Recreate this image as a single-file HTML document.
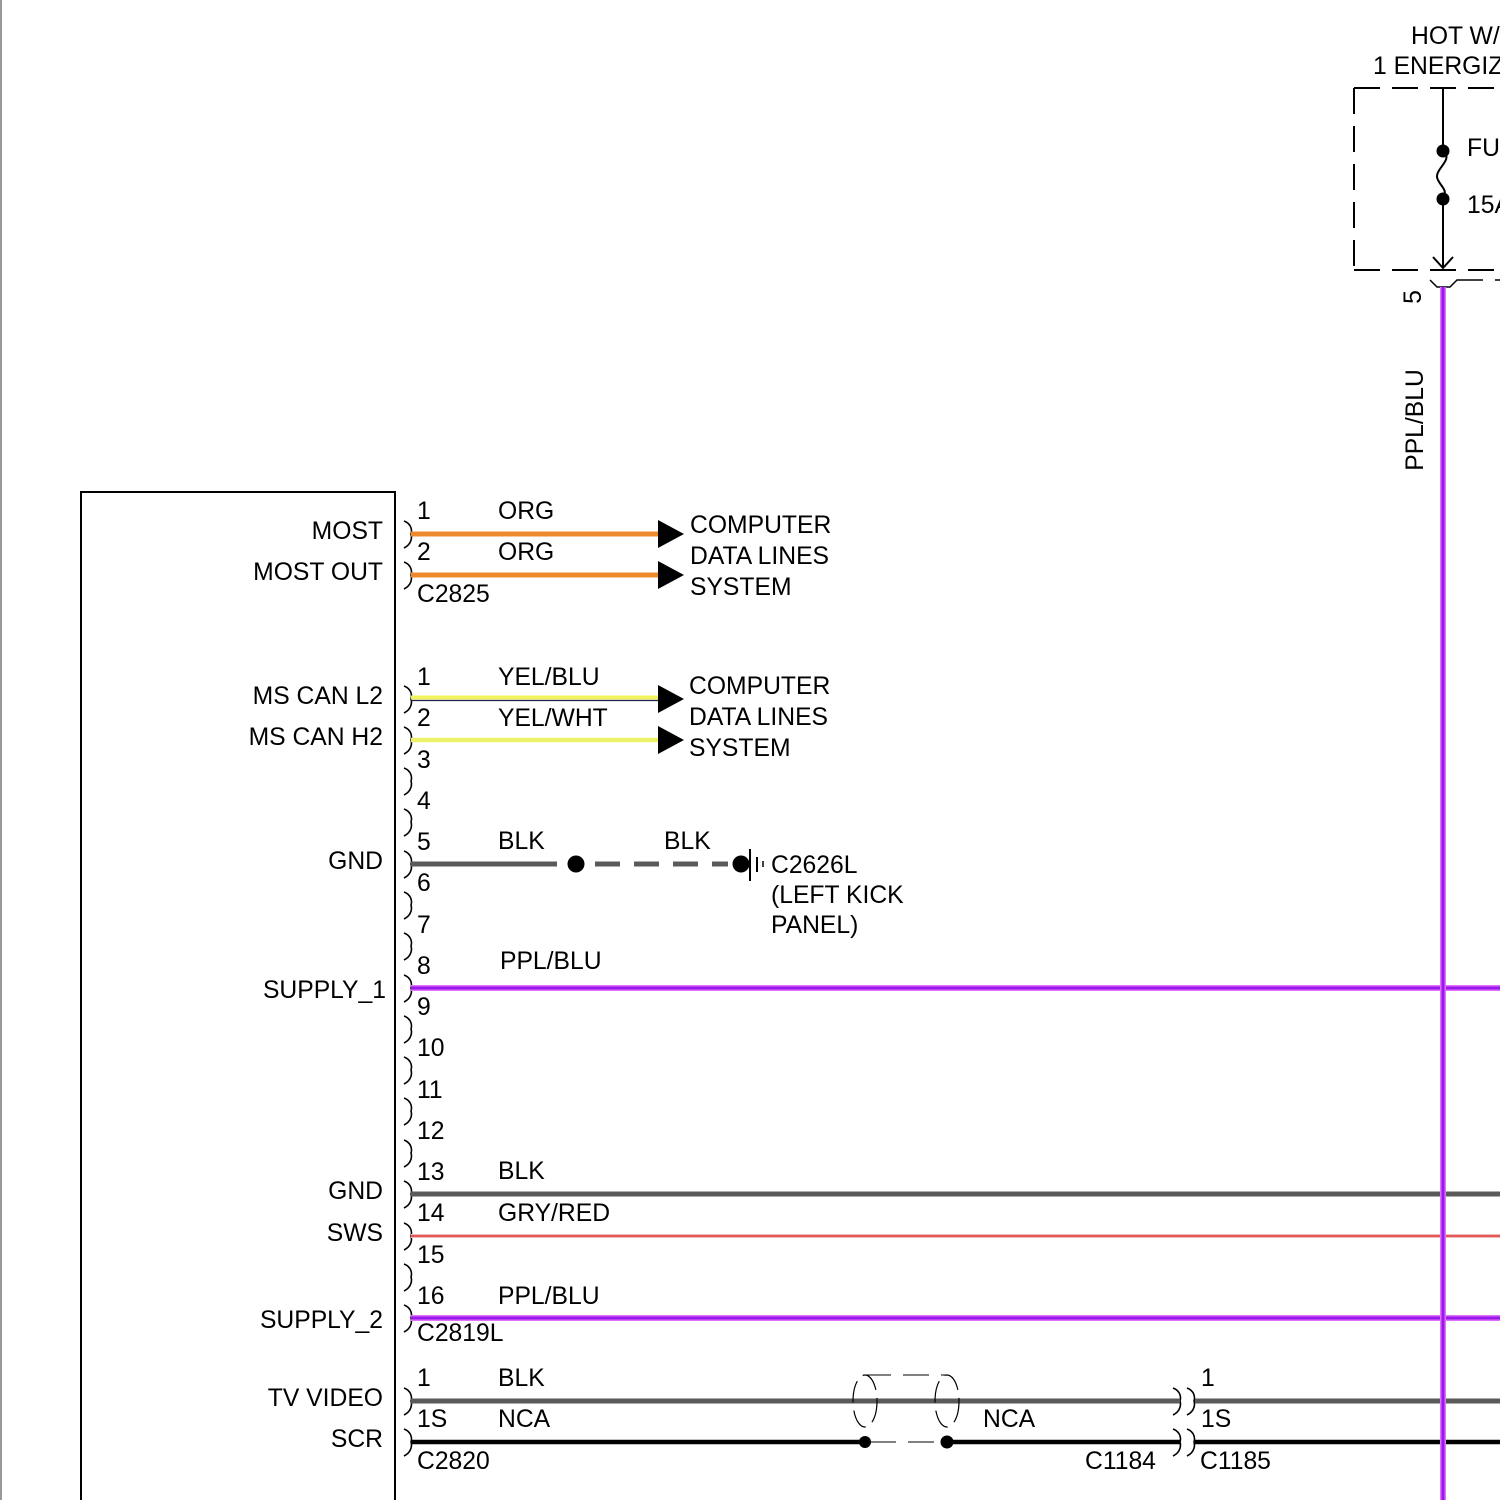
<!DOCTYPE html>
<html><head><meta charset="utf-8"><style>
html,body{margin:0;padding:0;background:#fff;}
svg{display:block;}
text{font-family:"Liberation Sans",Arial,sans-serif;font-size:24.7px;fill:#000;}
</style></head><body>
<svg width="1500" height="1500" viewBox="0 0 1500 1500" xmlns="http://www.w3.org/2000/svg">
<rect width="1500" height="1500" fill="#fff"/>
<line x1="1" y1="0" x2="1" y2="1500" stroke="#999" stroke-width="2"/>
<!-- module box -->
<path d="M81,1500 V492 H395 V1500" fill="none" stroke="#000" stroke-width="2"/>

<!-- brackets -->
<g fill="none" stroke="#000" stroke-width="1.6">
<path id="b" d="M404,521 C412,524 412,531 411,534 C412,537 412,544 404,548"/>
<use href="#b" transform="translate(0,41)"/>
<use href="#b" transform="translate(0,165)"/>
<use href="#b" transform="translate(0,206)"/>
<use href="#b" transform="translate(0,247)"/>
<use href="#b" transform="translate(0,288)"/>
<use href="#b" transform="translate(0,330)"/>
<use href="#b" transform="translate(0,371)"/>
<use href="#b" transform="translate(0,412)"/>
<use href="#b" transform="translate(0,454)"/>
<use href="#b" transform="translate(0,495)"/>
<use href="#b" transform="translate(0,536)"/>
<use href="#b" transform="translate(0,577)"/>
<use href="#b" transform="translate(0,619)"/>
<use href="#b" transform="translate(0,660)"/>
<use href="#b" transform="translate(0,702)"/>
<use href="#b" transform="translate(0,743)"/>
<use href="#b" transform="translate(0,784)"/>
<use href="#b" transform="translate(0,867)"/>
<use href="#b" transform="translate(0,908)"/>
<use href="#b" transform="translate(769,867)"/>
<use href="#b" transform="translate(783,867)"/>
<use href="#b" transform="translate(769,908)"/>
<use href="#b" transform="translate(783,908)"/>
</g>

<g transform="translate(0,-1)">
<!-- group 1 labels -->
<text x="417" y="520">1</text>
<text x="498" y="520">ORG</text>
<text x="417" y="561">2</text>
<text x="498" y="561">ORG</text>
<text x="417" y="603">C2825</text>
<text x="690" y="534">COMPUTER</text>
<text x="690" y="565">DATA LINES</text>
<text x="690" y="596">SYSTEM</text>
<text x="383" y="540" text-anchor="end">MOST</text>
<text x="383" y="581" text-anchor="end">MOST OUT</text>
<text x="417" y="686">1</text>
<text x="498" y="686">YEL/BLU</text>
<text x="417" y="727">2</text>
<text x="498" y="727">YEL/WHT</text>
<text x="689" y="695">COMPUTER</text>
<text x="689" y="726">DATA LINES</text>
<text x="689" y="757">SYSTEM</text>
<text x="383" y="705" text-anchor="end">MS CAN L2</text>
<text x="383" y="746" text-anchor="end">MS CAN H2</text>
<text x="417" y="769">3</text>
<text x="417" y="810">4</text>
<text x="417" y="851">5</text>
<text x="417" y="892">6</text>
<text x="417" y="934">7</text>
<text x="417" y="975">8</text>
<text x="417" y="1016">9</text>
<text x="417" y="1057">10</text>
<text x="417" y="1099">11</text>
<text x="417" y="1140">12</text>
<text x="417" y="1181">13</text>
<text x="417" y="1222">14</text>
<text x="417" y="1264">15</text>
<text x="417" y="1305">16</text>
<text x="417" y="1342">C2819L</text>
<text x="498" y="850">BLK</text>
<text x="664" y="850">BLK</text>
<text x="771" y="874">C2626L</text>
<text x="771" y="904">(LEFT KICK</text>
<text x="771" y="934">PANEL)</text>
<text x="383" y="870" text-anchor="end">GND</text>
<text x="500" y="970">PPL/BLU</text>
<text x="386" y="999" text-anchor="end">SUPPLY_1</text>
<text x="498" y="1180">BLK</text>
<text x="498" y="1222">GRY/RED</text>
<text x="498" y="1305">PPL/BLU</text>
<text x="383" y="1200" text-anchor="end">GND</text>
<text x="383" y="1242" text-anchor="end">SWS</text>
<text x="383" y="1329" text-anchor="end">SUPPLY_2</text>
<text x="417" y="1387">1</text>
<text x="498" y="1387">BLK</text>
<text x="417" y="1428">1S</text>
<text x="498" y="1428">NCA</text>
<text x="417" y="1470">C2820</text>
<text x="983" y="1428">NCA</text>
<text x="1085" y="1470">C1184</text>
<text x="1201" y="1387">1</text>
<text x="1201" y="1428">1S</text>
<text x="1200" y="1470">C1185</text>
<text x="383" y="1407" text-anchor="end">TV VIDEO</text>
<text x="383" y="1448" text-anchor="end">SCR</text>
<text x="1411" y="45">HOT W/ ACC</text>
<text x="1373" y="75">1 ENERGIZED</text>
<text x="1467" y="157">FUSE</text>
<text x="1467" y="214">15A</text>
</g>

<!-- group 1 MOST -->
<line x1="411" y1="534" x2="660" y2="534" stroke="#ee8a2c" stroke-width="5"/>
<line x1="411" y1="575" x2="660" y2="575" stroke="#ee8a2c" stroke-width="5"/>
<polygon points="658,520 684,534 658,548" fill="#000"/>
<polygon points="658,561 684,575 658,589" fill="#000"/>

<!-- group 2 -->
<line x1="411" y1="697.5" x2="660" y2="697.5" stroke="#f2f25c" stroke-width="4"/>
<line x1="411" y1="700.5" x2="660" y2="700.5" stroke="#1a2050" stroke-width="1.2"/>
<line x1="411" y1="740" x2="660" y2="740" stroke="#eef26a" stroke-width="4.5"/>
<polygon points="658,685 684,699 658,713" fill="#000"/>
<polygon points="658,726 684,740 658,754" fill="#000"/>

<!-- GND pin5 -->
<line x1="411" y1="864" x2="557" y2="864" stroke="#5a5a5a" stroke-width="5"/>
<line x1="595" y1="864" x2="728" y2="864" stroke="#5a5a5a" stroke-width="5" stroke-dasharray="25,14"/>
<circle cx="576" cy="864" r="8.5" fill="#000"/>
<circle cx="741" cy="864" r="8.5" fill="#000"/>
<line x1="750" y1="849" x2="750" y2="881" stroke="#000" stroke-width="2"/>
<line x1="757" y1="857" x2="757" y2="872" stroke="#000" stroke-width="2"/>
<line x1="763" y1="861" x2="763" y2="867" stroke="#000" stroke-width="1.5"/>

<!-- SUPPLY_1 -->
<line x1="411" y1="988" x2="1500" y2="988" stroke="#e070ff" stroke-width="6"/>
<line x1="411" y1="988" x2="1500" y2="988" stroke="#9a18e8" stroke-width="3"/>

<!-- 13 14 16 -->
<line x1="411" y1="1194" x2="1500" y2="1194" stroke="#5a5a5a" stroke-width="5"/>
<line x1="411" y1="1236" x2="1500" y2="1236" stroke="#f0b8b8" stroke-width="4"/>
<line x1="411" y1="1236" x2="1500" y2="1236" stroke="#e03838" stroke-width="1.6"/>
<line x1="411" y1="1318" x2="1500" y2="1318" stroke="#e070ff" stroke-width="6"/>
<line x1="411" y1="1318" x2="1500" y2="1318" stroke="#9a18e8" stroke-width="3"/>

<!-- group 3 -->
<line x1="411" y1="1401" x2="1180" y2="1401" stroke="#5a5a5a" stroke-width="5"/>
<line x1="1195" y1="1401" x2="1500" y2="1401" stroke="#5a5a5a" stroke-width="5"/>
<line x1="411" y1="1442" x2="865" y2="1442" stroke="#000" stroke-width="4.5"/>
<line x1="947" y1="1442" x2="1180" y2="1442" stroke="#000" stroke-width="4.5"/>
<line x1="1195" y1="1442" x2="1500" y2="1442" stroke="#000" stroke-width="4.5"/>
<g fill="none" stroke="#000" stroke-width="1" stroke-dasharray="26,12">
<line x1="865" y1="1375" x2="948" y2="1375"/>
<line x1="870" y1="1442" x2="942" y2="1442"/>
</g>
<g fill="none" stroke="#000" stroke-width="1.2" stroke-dasharray="22,8">
<ellipse cx="865" cy="1401" rx="12" ry="26"/>
<ellipse cx="947" cy="1401" rx="12" ry="26"/>
</g>
<circle cx="865" cy="1442" r="6" fill="#000"/>
<circle cx="947" cy="1442" r="6.5" fill="#000"/>

<!-- top right fuse -->
<g fill="none" stroke="#000" stroke-width="2" stroke-dasharray="26,12">
<line x1="1354" y1="88" x2="1500" y2="88"/>
<line x1="1354" y1="270" x2="1500" y2="270"/>
<line x1="1354" y1="88" x2="1354" y2="270"/>
</g>
<line x1="1443" y1="88" x2="1443" y2="268" stroke="#000" stroke-width="2"/>
<rect x="1438" y="152" width="10" height="46" fill="#fff"/>
<path d="M1443,151 C1455,160 1432,170 1438,180 C1442,188 1448,190 1443,199" fill="none" stroke="#000" stroke-width="2"/>
<circle cx="1443" cy="151" r="6.5" fill="#000"/>
<circle cx="1443" cy="199" r="6.5" fill="#000"/>
<path d="M1433,257 L1443,268 L1453,257" fill="none" stroke="#000" stroke-width="2"/>
<path d="M1430,280 L1437,287 L1450,287 L1457,280 L1483,280 M1495,280 L1500,280" fill="none" stroke="#000" stroke-width="1.5"/>

<!-- vertical PPL/BLU -->
<line x1="1443" y1="287" x2="1443" y2="1500" stroke="#e070ff" stroke-width="6"/>
<line x1="1443" y1="287" x2="1443" y2="1500" stroke="#9a18e8" stroke-width="3"/>
<text transform="translate(1423,420) rotate(-90)" text-anchor="middle">PPL/BLU</text>
<text transform="translate(1421,297) rotate(-90)" text-anchor="middle">5</text>
</svg>
</body></html>
